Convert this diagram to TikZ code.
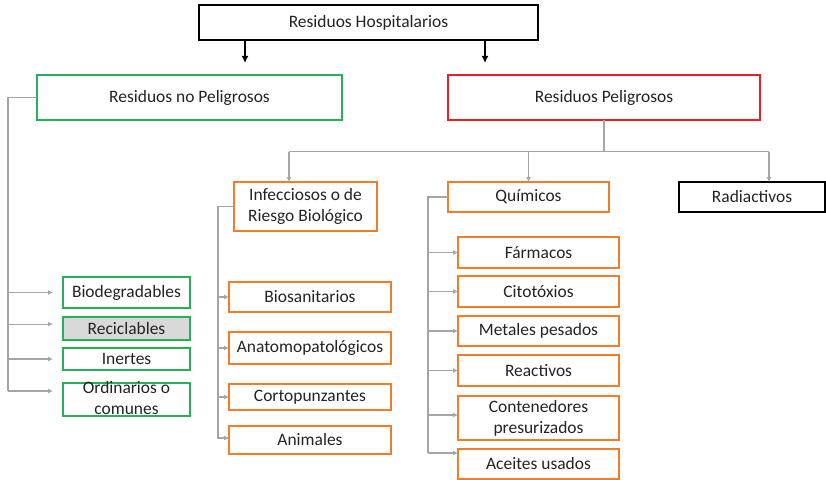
\documentclass[tikz,border=0pt]{standalone}
\usepackage{fontspec}
\setmainfont{Carlito}
\usetikzlibrary{arrows.meta}

\definecolor{verde}{RGB}{40,175,90}
\definecolor{naranja}{RGB}{240,125,40}
\definecolor{rojo}{RGB}{235,30,35}
\definecolor{gris}{RGB}{217,217,217}
\definecolor{lineagris}{RGB}{165,165,165}
\definecolor{texto}{RGB}{35,35,35}

\begin{document}
\begin{tikzpicture}[x=0.025cm, y=-0.025cm]
\tikzset{ >=latex, inner sep=0pt, outer sep=0pt,
  caja/.style={draw, line width=1.4pt, align=center, text=texto, font=\fontsize{12.4}{15}\selectfont},
  verde/.style={caja, draw=verde, minimum width=3.175cm},
  naranja/.style={caja, draw=naranja},
  linea/.style={draw=lineagris, line width=0.8pt},
  flecha/.style={linea, -{Latex[length=3.5pt,width=3.5pt]}},
  negra/.style={line width=1.3pt, -{Latex[length=5pt,width=5pt]}},
}

\useasboundingbox (0,0) rectangle (826,479);

%\draw [lightgray, dashed](0,0) grid[step=50] (826,479);

\node [caja, minimum width=8.475cm, minimum height=0.875cm] (H) at (368.5,22.5) {Residuos Hospitalarios};
\node [caja, draw=verde, minimum width=7.625cm, minimum height=1.125cm] (NP) at (189.5,97.5) {Residuos no Peligrosos};
\node [caja, draw=rojo, minimum width=7.8cm, minimum height=1.125cm] (P) at (604,97.5) {Residuos Peligrosos};

\node [naranja, minimum width=3.575cm, minimum height=1.225cm] (Inf) at (305.5,206.5) {Infecciosos o de\\Riesgo Biológico};
\node [naranja, minimum width=4.025cm, minimum height=0.75cm] (Q) at (528.5,197) {Químicos};
\node [caja, minimum width=3.65cm, minimum height=0.75cm] (Rad) at (752,197) {Radiactivos};

% no peligrosos
\node [verde, minimum height=0.775cm] (Bio) at (126.5,292.5) {Biodegradables};
\node [verde, minimum height=0.575cm, fill=gris] (Rec) at (126.5,328.5) {Reciclables};
\node [verde, minimum height=0.55cm] (Ine) at (126.5,359) {Inertes};
\node [verde, text height=22.25pt, text depth=1.25pt] (Ord) at (126.5,399.5) {Ordinarios o\\comunes};

% infecciosos
\node [naranja, minimum width=4.05cm, minimum height=0.75cm] (Bios) at (310,297) {Biosanitarios};
\node [naranja, minimum width=4.05cm, minimum height=0.8cm]  (Anat) at (310,348) {Anatomopatológicos};
\node [naranja, minimum width=4.05cm, minimum height=0.65cm] (Cort) at (310,397) {Cortopunzantes};
\node [naranja, minimum width=4.05cm, minimum height=0.7cm]  (Anim) at (310,440) {Animales};

% quimicos
\node [naranja, minimum width=4.025cm, minimum height=0.775cm] (Far) at (538.5,252.5) {Fármacos};
\node [naranja, minimum width=4.025cm, minimum height=0.775cm] (Cit) at (538.5,291.5) {Citotóxios};
\node [naranja, minimum width=4.025cm, minimum height=0.75cm]  (Met) at (538.5,331) {Metales pesados};
\node [naranja, minimum width=4.025cm, minimum height=0.775cm] (Rea) at (538.5,370.5) {Reactivos};
\node [naranja, minimum width=4.025cm, minimum height=1.1cm]   (Con) at (538.5,418) {Contenedores\\presurizados};
\node [naranja, minimum width=4.025cm, minimum height=0.75cm]  (Ace) at (538.5,464) {Aceites usados};

% desde hospitalarios
\coordinate (hNP) at (245,63);
\coordinate (hP) at (485,63);
\draw [negra] (hNP |- H.south) -- (hNP);
\draw [negra] (hP |- H.south) -- (hP);

% rama no peligrosos
\coordinate (tNP) at (8,97.5);
\coordinate (tNPb) at (8,391);
\draw [linea] (NP.west) -- (tNP) -- (tNPb);
\draw [flecha, shorten >=0.25cm] (Bio.west -| tNP) -- (Bio.west);
\draw [flecha, shorten >=0.25cm] ([yshift=0.11cm]Rec.west -| tNP) -- ([yshift=0.11cm]Rec.west);
\draw [flecha, shorten >=0.25cm] (Ine.west -| tNP) -- (Ine.west);
\draw [flecha, shorten >=0.25cm] (tNPb) -- (tNPb -| Ord.west);

% rama peligrosos
\coordinate (pP) at (604,151.5);
\coordinate (pInf) at (289,151.5);
\coordinate (pRad) at (769,151.5);
\draw [linea] (P.south) -- (pP);
\draw [linea] (pInf) -- (pRad);
\draw [flecha] (pInf) -- (pInf |- Inf.north);
\draw [flecha] (Q.north |- pP) -- (Q.north);
\draw [flecha] (pRad) -- (pRad |- Rad.north);

% infecciosos
\coordinate (tInf) at (218,206.5);
\draw [linea] (Inf.west) -- (tInf) |- ([yshift=0.05cm]Anim.west);
\draw [flecha] (Bios.west -| tInf) -- (Bios.west);
\draw [flecha] (Anat.west -| tInf) -- (Anat.west);
\draw [flecha] (Cort.west -| tInf) -- (Cort.west);
\draw [flecha] ([yshift=0.05cm]Anim.west -| tInf) -- ([yshift=0.05cm]Anim.west);

% quimicos
\coordinate (tQ) at (428,197);
\coordinate (tQb) at (428,453);
\draw [linea] (Q.west) -- (tQ) -- (tQb);
\draw [flecha] (Far.west -| tQ) -- (Far.west);
\draw [flecha] (Cit.west -| tQ) -- (Cit.west);
\draw [flecha] (Met.west -| tQ) -- (Met.west);
\draw [flecha] (Rea.west -| tQ) -- (Rea.west);
\draw [flecha] ([yshift=0.075cm]Con.west -| tQ) -- ([yshift=0.075cm]Con.west);
\draw [flecha] (tQb) -- (tQb -| Ace.west);

\end{tikzpicture}
\end{document}
